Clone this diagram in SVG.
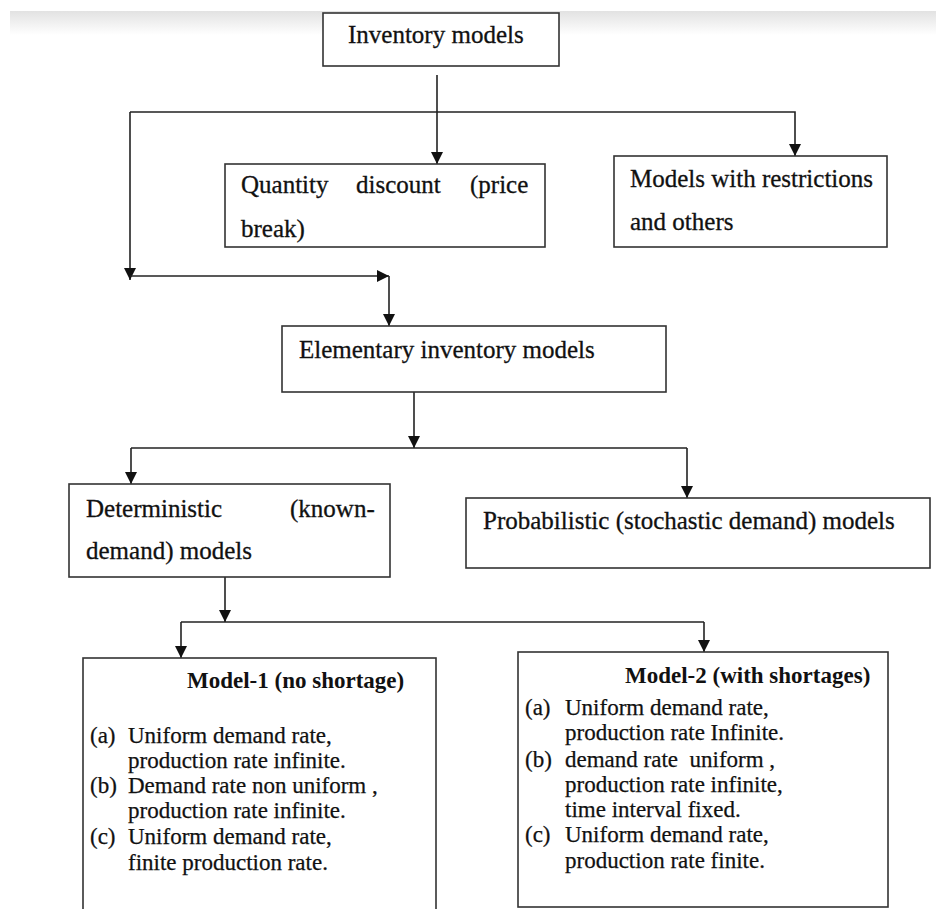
<svg xmlns="http://www.w3.org/2000/svg" width="936" height="909" viewBox="0 0 936 909">
<style>
.box{fill:#fff;stroke:#333;stroke-width:1.6}
.hd{font-family:"Liberation Serif","Times New Roman",serif;font-size:25px;fill:#111;stroke:#111;stroke-width:0.3}
.bd{font-family:"Liberation Serif","Times New Roman",serif;font-size:23px;fill:#111;stroke:#111;stroke-width:0.25}
.tt{font-family:"Liberation Serif","Times New Roman",serif;font-size:23px;font-weight:bold;fill:#111}
.ln{fill:none;stroke:#222;stroke-width:1.6}
.ar{marker-end:url(#arrow)}
</style>
<defs>
<marker id="arrow" markerUnits="userSpaceOnUse" markerWidth="12" markerHeight="12" refX="12" refY="6" orient="auto">
<path d="M0,0 L12,6 L0,12 z" fill="#111"/>
</marker>
<linearGradient id="band" x1="0" y1="0" x2="0" y2="1">
<stop offset="0" stop-color="#e2e2e2"/>
<stop offset="1" stop-color="#ffffff"/>
</linearGradient>
</defs>
<rect x="0" y="0" width="936" height="909" fill="#fff"/>
<rect x="10" y="11" width="926" height="24" fill="url(#band)"/>

<g id="connectors">
<path class="ln ar" d="M437,75 V164"/>
<path class="ln ar" d="M130,112 H795 V156"/>
<path class="ln ar" d="M130,112 V280"/>
<path class="ln ar" d="M130,276 H389"/>
<path class="ln ar" d="M389,276 V326"/>
<path class="ln ar" d="M414,392 V448"/>
<path class="ln" d="M131,448 H687"/>
<path class="ln ar" d="M131,448 V484"/>
<path class="ln ar" d="M687,448 V498"/>
<path class="ln ar" d="M225,577 V622"/>
<path class="ln" d="M181,622 H704"/>
<path class="ln ar" d="M181,622 V658"/>
<path class="ln ar" d="M704,622 V652"/>
</g>

<g id="inventory-models">
<rect class="box" x="323" y="13" width="236" height="53"/>
<text class="hd" x="348" y="43">Inventory models</text>
</g>

<g id="quantity-discount">
<rect class="box" x="225" y="164" width="320" height="83"/>
<text class="hd" x="241" y="193">Quantity</text>
<text class="hd" x="356" y="193">discount</text>
<text class="hd" x="470" y="193">(price</text>
<text class="hd" x="241" y="237">break)</text>
</g>

<g id="models-restrictions">
<rect class="box" x="614" y="156" width="273" height="91"/>
<text class="hd" x="630" y="187">Models with restrictions</text>
<text class="hd" x="630" y="230">and others</text>
</g>

<g id="elementary">
<rect class="box" x="282" y="326" width="384" height="66"/>
<text class="hd" x="299" y="358">Elementary inventory models</text>
</g>

<g id="deterministic">
<rect class="box" x="69" y="484" width="321" height="93"/>
<text class="hd" x="86" y="517">Deterministic</text>
<text class="hd" x="290" y="517">(known-</text>
<text class="hd" x="86" y="559">demand) models</text>
</g>

<g id="probabilistic">
<rect class="box" x="466" y="498" width="464" height="70"/>
<text class="hd" x="483" y="529">Probabilistic (stochastic demand) models</text>
</g>

<g id="model-1">
<rect class="box" x="83" y="658" width="353" height="270"/>
<text class="tt" x="187" y="688">Model-1 (no shortage)</text>
<text class="bd" x="90" y="743">(a)</text>
<text class="bd" x="128" y="743">Uniform demand rate,</text>
<text class="bd" x="128" y="768">production rate infinite.</text>
<text class="bd" x="90" y="793">(b)</text>
<text class="bd" x="128" y="793">Demand rate non uniform ,</text>
<text class="bd" x="128" y="818">production rate infinite.</text>
<text class="bd" x="90" y="844">(c)</text>
<text class="bd" x="128" y="844">Uniform demand rate,</text>
<text class="bd" x="128" y="870">finite production rate.</text>
</g>

<g id="model-2">
<rect class="box" x="518" y="652" width="370" height="255"/>
<text class="tt" x="625" y="683">Model-2 (with shortages)</text>
<text class="bd" x="525" y="715">(a)</text>
<text class="bd" x="565" y="715">Uniform demand rate,</text>
<text class="bd" x="565" y="740">production rate Infinite.</text>
<text class="bd" x="525" y="767">(b)</text>
<text class="bd" x="565" y="767" xml:space="preserve">demand rate  uniform ,</text>
<text class="bd" x="565" y="792">production rate infinite,</text>
<text class="bd" x="565" y="817">time interval fixed.</text>
<text class="bd" x="525" y="842">(c)</text>
<text class="bd" x="565" y="842">Uniform demand rate,</text>
<text class="bd" x="565" y="868">production rate finite.</text>
</g>
</svg>
